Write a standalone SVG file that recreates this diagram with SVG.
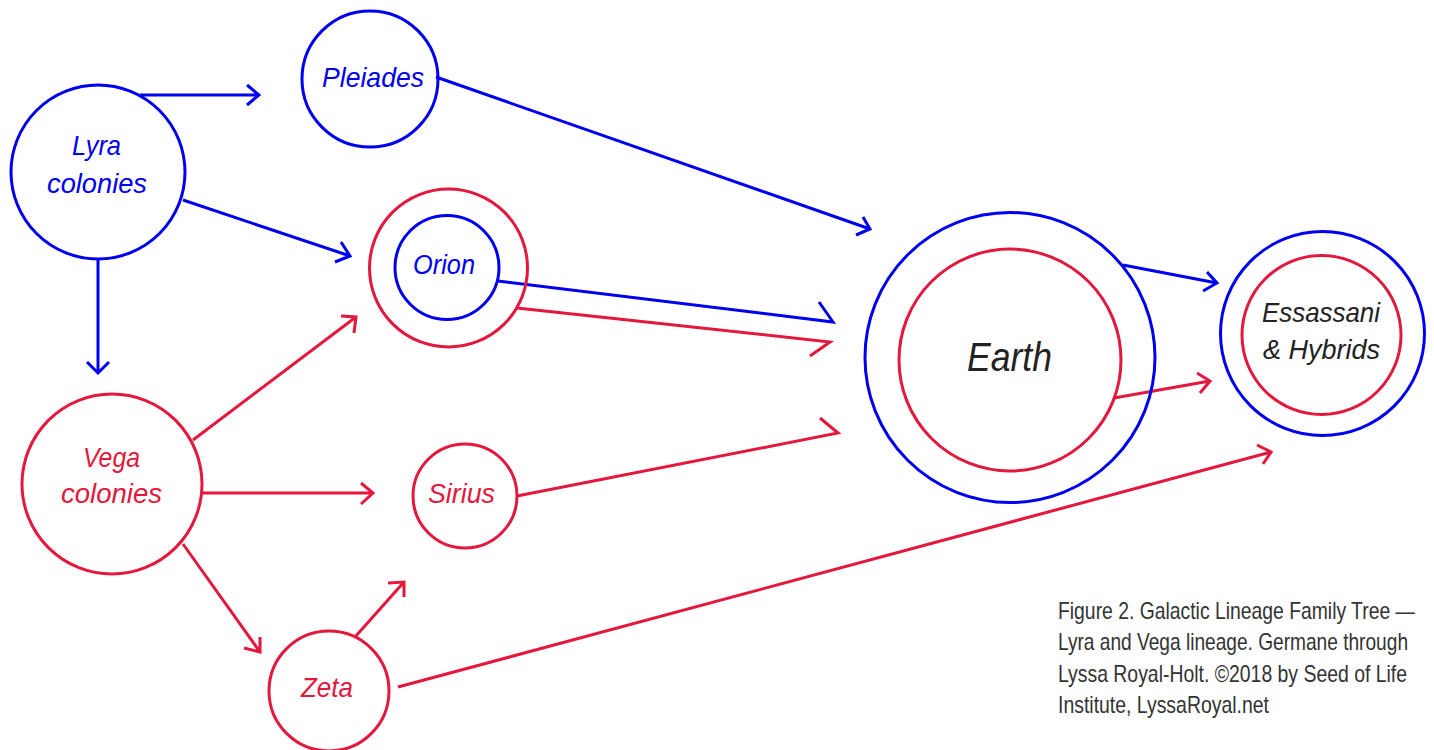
<svg xmlns="http://www.w3.org/2000/svg" width="1434" height="750" viewBox="0 0 1434 750">
<style>
.b{fill:none;stroke:#0000F0;stroke-width:3}
.r{fill:none;stroke:#E4173D;stroke-width:3}
.cb{fill:none;stroke:#0000F0;stroke-width:3;stroke-linejoin:miter;stroke-linecap:butt}
.cr{fill:none;stroke:#E4173D;stroke-width:3;stroke-linejoin:miter;stroke-linecap:butt}
text{font-family:"Liberation Sans",Arial,sans-serif;font-style:italic}
.tb{fill:#0000F0;font-size:28px}
.tr{fill:#E4173D;font-size:28px}
.tk{fill:#222;font-size:28px}
.cap{font-style:normal;fill:#333;font-size:23px}
</style>
<rect width="1434" height="750" fill="#fff"/>
<g id="connectors">
<path class="cb" d="M140,95 L259,95 M247,85 L259,95 L247,105"/>
<path class="cb" d="M183,200 L350,256 M341,242 L350,256 L335,262"/>
<path class="cb" d="M98,260 L98,373 M87,362 L98,373 L109,362"/>
<path class="cb" d="M436,77 L870,229 M863,217 L870,229 L856,235"/>
<path class="cb" d="M498,281 L833,322 L819,302"/>
<path class="cb" d="M1123,265 L1217,283 M1207,272 L1217,283 L1203,291"/>
<path class="cr" d="M193,440 L356,317 M341,316 L356,317 L354,333"/>
<path class="cr" d="M203,493 L373,493 M361,483 L373,493 L361,504"/>
<path class="cr" d="M183,544 L260,652 M244,648 L260,652 L260,637"/>
<path class="cr" d="M355,637 L404,582 M388,583 L404,582 L404,597"/>
<path class="cr" d="M398,687 L1271,452 M1257,445 L1271,452 L1263,464"/>
<path class="cr" d="M517,308 L830,342 L810,356"/>
<path class="cr" d="M517,496 L838,433 L820,418"/>
<path class="cr" d="M1114,398 L1210,381 M1197,373 L1210,381 L1200,393"/>
</g>
<g id="lyra">
<circle class="b" cx="98" cy="172" r="87"/>
<text class="tb" x="72" y="155" textLength="49" lengthAdjust="spacingAndGlyphs">Lyra</text>
<text class="tb" x="47" y="193" textLength="100" lengthAdjust="spacingAndGlyphs">colonies</text>
</g>
<g id="pleiades">
<circle class="b" cx="370" cy="79" r="68"/>
<text class="tb" x="322" y="87" textLength="102" lengthAdjust="spacingAndGlyphs">Pleiades</text>
</g>
<g id="orion">
<circle class="r" cx="448.5" cy="268" r="79"/>
<circle class="b" cx="447" cy="267.5" r="52"/>
<text class="tb" x="413" y="274" textLength="62" lengthAdjust="spacingAndGlyphs">Orion</text>
</g>
<g id="vega">
<circle class="r" cx="112" cy="484" r="90"/>
<text class="tr" x="83" y="467" textLength="57" lengthAdjust="spacingAndGlyphs">Vega</text>
<text class="tr" x="61" y="503" textLength="101" lengthAdjust="spacingAndGlyphs">colonies</text>
</g>
<g id="sirius">
<circle class="r" cx="465" cy="496" r="52"/>
<text class="tr" x="428" y="503" textLength="67" lengthAdjust="spacingAndGlyphs">Sirius</text>
</g>
<g id="zeta">
<circle class="r" cx="329" cy="691" r="60"/>
<text class="tr" x="301" y="697" textLength="52" lengthAdjust="spacingAndGlyphs">Zeta</text>
</g>
<g id="earth">
<circle class="b" cx="1010" cy="357.5" r="145"/>
<circle class="r" cx="1010" cy="360" r="111"/>
<text class="tk" style="font-size:40px" x="967" y="371" textLength="85" lengthAdjust="spacingAndGlyphs">Earth</text>
</g>
<g id="essassani">
<circle class="b" cx="1322.5" cy="333.5" r="102"/>
<circle class="r" cx="1321.5" cy="335" r="79.5"/>
<text class="tk" x="1262" y="322" textLength="118" lengthAdjust="spacingAndGlyphs">Essassani</text>
<text class="tk" x="1263" y="359" textLength="117" lengthAdjust="spacingAndGlyphs">&amp; Hybrids</text>
</g>
<g id="caption" transform="translate(1058,0) scale(0.83,1)">
<text class="cap" x="0" y="619" textLength="430" lengthAdjust="spacingAndGlyphs">Figure 2. Galactic Lineage Family Tree —</text>
<text class="cap" x="0" y="650" textLength="421.7" lengthAdjust="spacingAndGlyphs">Lyra and Vega lineage. Germane through</text>
<text class="cap" x="0" y="682" textLength="420.5" lengthAdjust="spacingAndGlyphs">Lyssa Royal-Holt. ©2018 by Seed of Life</text>
<text class="cap" x="0" y="713" textLength="254.2" lengthAdjust="spacingAndGlyphs">Institute, LyssaRoyal.net</text>
</g>
</svg>
